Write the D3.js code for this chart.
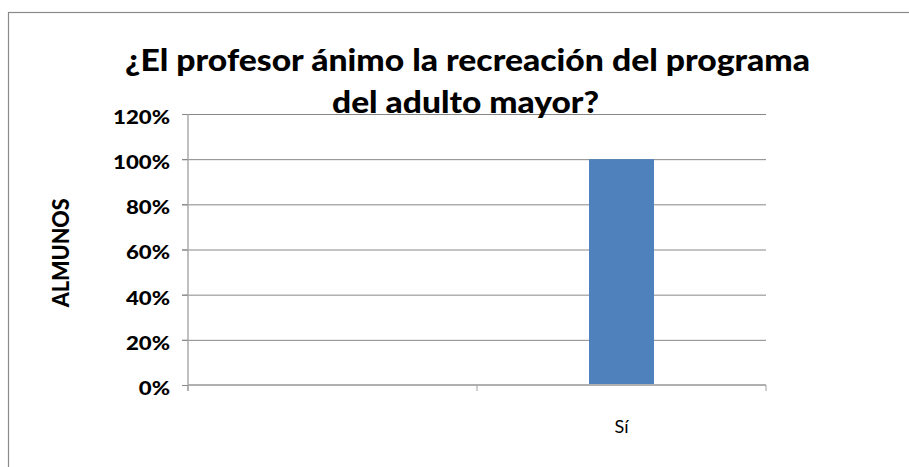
<!DOCTYPE html>
<html>
<head>
<meta charset="utf-8">
<script src="https://cdn.jsdelivr.net/npm/d3@7"></script>
<style>
  html, body { margin: 0; padding: 0; background: #fff; }
  svg { display: block; }
  text { font-family: Lato, "Open Sans", "DejaVu Sans", sans-serif; }
</style>
</head>
<body>
<svg id="chart" width="909" height="467"></svg>
<script>
// Chart data
const titleLines = ["¿El profesor ánimo la recreación del programa", "del adulto mayor?"];
const yAxisTitle = "ALMUNOS";
const categories = ["", "Sí"];
const values = [0, 1.0];
const yTicks = [0, 0.2, 0.4, 0.6, 0.8, 1.0, 1.2];

const W = 909, H = 467;
const margin = { left: 188, right: W - 766, top: 114, bottom: H - 385 };

const svg = d3.select("#chart");

// Outer chart frame
svg.append("rect")
  .attr("x", 8.5).attr("y", 12.5)
  .attr("width", 1200).attr("height", 1200)
  .attr("fill", "#fff")
  .attr("stroke", "#8a8a8a").attr("stroke-width", 1.2);

const x = d3.scaleBand()
  .domain(categories)
  .range([margin.left, W - margin.right])
  .paddingInner(0).paddingOuter(0);

const y = d3.scaleLinear()
  .domain([0, d3.max(yTicks)])
  .range([H - margin.bottom, margin.top]);

// Horizontal gridlines (with short outer tick marks)
const grid = svg.append("g")
  .attr("transform", `translate(${margin.left},0)`)
  .call(d3.axisLeft(y).tickValues(yTicks.filter(d => d > 0))
    .tickSize(-(x.range()[1] - x.range()[0])).tickFormat(""));
grid.select(".domain").remove();
grid.selectAll(".tick line").attr("stroke", "#878787").attr("stroke-width", 1)
  .attr("x1", -6);

// Bars
const barFrac = 0.225;
svg.append("g").selectAll("rect")
  .data(categories.map((c, i) => ({ c, v: values[i] })))
  .join("rect")
  .attr("x", d => x(d.c) + x.bandwidth() * (1 - barFrac) / 2)
  .attr("width", x.bandwidth() * barFrac)
  .attr("y", d => y(d.v))
  .attr("height", d => y(0) - y(d.v))
  .attr("fill", "#4f81bd");

// Y axis with percentage labels
const yAxis = svg.append("g")
  .attr("transform", `translate(${margin.left},0)`)
  .call(d3.axisLeft(y).tickValues(yTicks).tickFormat(d3.format(".0%")).tickSize(6).tickPadding(12));
yAxis.select(".domain").attr("stroke", "#b0b0b0").attr("stroke-width", 1.6)
  .attr("d", `M0,${y(0) + 6}V${y(d3.max(yTicks))}`);
yAxis.selectAll(".tick line").attr("stroke", "#878787");
yAxis.selectAll(".tick text")
  .attr("font-size", 18).attr("font-weight", 900).attr("fill", "#000")
  .attr("dy", "0.52em");
// widen the tick labels uniformly
const ref = yAxis.selectAll(".tick text").nodes().map(n => n.getComputedTextLength());
const widest = d3.max(ref);
const k = 57 / widest;
yAxis.selectAll(".tick text").each(function () {
  const w = this.getComputedTextLength();
  d3.select(this).attr("textLength", w * k).attr("lengthAdjust", "spacingAndGlyphs");
});

// X axis baseline, category ticks and labels
const xAxis = svg.append("g")
  .attr("transform", `translate(0,${y(0)})`);
xAxis.append("line")
  .attr("x1", x.range()[0]).attr("x2", x.range()[1])
  .attr("stroke", "#b0b0b0").attr("stroke-width", 2);
const bounds = categories.map(c => x(c)).concat([x.range()[1]]);
xAxis.selectAll("line.tk").data(bounds).join("line")
  .attr("class", "tk")
  .attr("x1", d => d).attr("x2", d => d)
  .attr("y1", 0).attr("y2", 6)
  .attr("stroke", "#a0a0a0").attr("stroke-width", 1);
xAxis.selectAll("text.cat").data(categories).join("text")
  .attr("class", "cat")
  .attr("x", d => x(d) + x.bandwidth() / 2)
  .attr("y", 48)
  .attr("text-anchor", "middle")
  .style("font-size", "18px")
  .attr("fill", "#000")
  .text(d => d);

// Y axis title
svg.append("g")
  .attr("transform", "translate(60.5,252.8) scale(1.3,1) rotate(-90)")
  .append("text")
  .attr("text-anchor", "middle")
  .attr("dy", "0.36em")
  .attr("font-size", 18)
  .attr("font-weight", 900)
  .attr("fill", "#000")
  .attr("textLength", 109)
  .attr("lengthAdjust", "spacingAndGlyphs")
  .text(yAxisTitle);

// Chart title
const titleLayout = [
  { cx: 467.5, base: 71, len: 685 },
  { cx: 465.5, base: 113, len: 267 }
];
svg.append("g").selectAll("text")
  .data(titleLines)
  .join("text")
  .attr("x", (d, i) => titleLayout[i].cx)
  .attr("y", (d, i) => titleLayout[i].base)
  .attr("text-anchor", "middle")
  .attr("font-size", 31)
  .attr("font-weight", 900)
  .attr("fill", "#000")
  .attr("textLength", (d, i) => titleLayout[i].len)
  .attr("lengthAdjust", "spacingAndGlyphs")
  .text(d => d);
</script>
</body>
</html>
